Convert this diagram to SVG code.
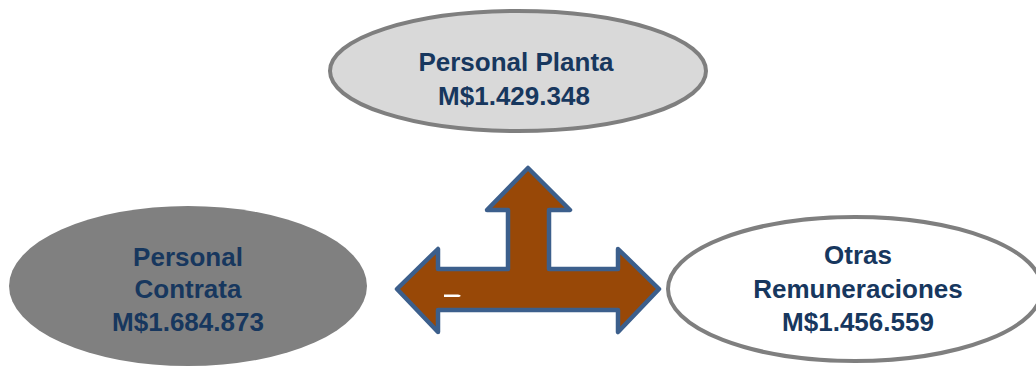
<svg xmlns="http://www.w3.org/2000/svg" width="1036" height="368" viewBox="0 0 1036 368">
<style>
.t{font-family:"Liberation Sans",Arial,sans-serif;font-weight:bold;font-size:26px;fill:#17375e;text-anchor:middle}
</style>
<rect width="1036" height="368" fill="#ffffff"/>
<g id="connectors">
<path d="M528,168 L570,210 L549,210 L549,269 L618,269 L618,249 L659,289 L618,332 L618,310 L438,310 L438,332 L397,289 L438,249 L438,269 L508,269 L508,210 L487,210 Z" fill="#984807" stroke="#3c5f8c" stroke-width="4.5" stroke-linejoin="round"/>
<path d="M444,294.5 L458,294.5 Q463,295.5 459,297 L444,297 Z" fill="#ffffff"/>
</g>
<g id="planta">
<ellipse cx="518" cy="71" rx="188" ry="60" fill="#d9d9d9" stroke="#7f7f7f" stroke-width="4"/>
<text class="t" x="516" y="71">Personal Planta</text>
<text class="t" x="514" y="105">M$1.429.348</text>
</g>
<g id="contrata">
<ellipse cx="188" cy="286" rx="179" ry="80" fill="#808080"/>
<text class="t" x="188" y="266">Personal</text>
<text class="t" x="188" y="298">Contrata</text>
<text class="t" x="188" y="331">M$1.684.873</text>
</g>
<g id="otras">
<ellipse cx="855" cy="289" rx="187" ry="72" fill="#ffffff" stroke="#7f7f7f" stroke-width="4"/>
<text class="t" x="858" y="264">Otras</text>
<text class="t" x="858" y="298">Remuneraciones</text>
<text class="t" x="858" y="331">M$1.456.559</text>
</g>
</svg>
